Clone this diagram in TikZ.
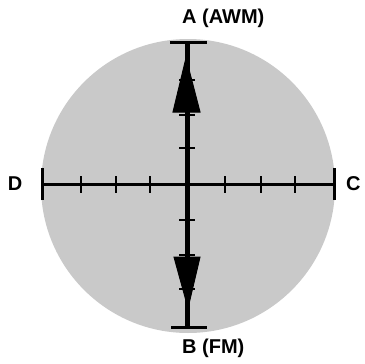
\documentclass[tikz,border=0pt]{standalone}
\usepackage{fontspec}
\setmainfont{Liberation Sans}
\usetikzlibrary{positioning, arrows.meta}
\tikzset{
  dial/.style={fill=black!21, draw=none},
  axis/.style={line width=3pt},
  shaft/.style={line width=5pt},
  endbar/.style={line width=3pt},
  tick/.style={line width=2.6pt},
  pointer/.style={fill=black, draw=black, line width=1pt, line join=miter},
  lbl/.style={font=\fontsize{20}{22}\selectfont\bfseries, inner sep=0pt},
}

\begin{document}
\begin{tikzpicture}[x=1pt, y=-1pt]
  \useasboundingbox (0,0) rectangle (364,364);
  \fill[dial] (188,186) circle (147);

  \coordinate (ctr) at (187,184);
  \coordinate (top) at (187,42);
  \coordinate (bot) at (187,327);
  \coordinate (lft) at (42,184);
  \coordinate (rgt) at (334,184);

  % axes
  \draw[axis] (lft) -- (rgt);
  \draw[shaft] (top) -- (bot);
  \draw[endbar] (170,42) -- (207,42);
  \draw[endbar] (171,327) -- (207,327);
  \draw[endbar] (42,168) -- (42,200);
  \draw[endbar] (334,168) -- (334,200);

  % scale marks
  \foreach \x in {81,116,150,225,261,295}
    \draw[tick] (\x,176) -- (\x,193);
  \foreach \y in {80,115,148,220,255,289}
    \draw[tick] (179,\y) -- (195,\y);

  % pointers
  \filldraw[pointer] (186,58) -- (173,112) -- (200,112) -- cycle;
  \filldraw[pointer] (174,257) -- (200,257) -- (188,308) -- cycle;

  \node[lbl, anchor=west] (labA) at (182,18) {A (AWM)};
  \node[lbl, anchor=west] (labB) at (182,348) {B (FM)};
  \node[lbl] (labD) at (15,184) {D};
  \node[lbl, anchor=west] (labC) at (346,184) {C};
\end{tikzpicture}
\end{document}
